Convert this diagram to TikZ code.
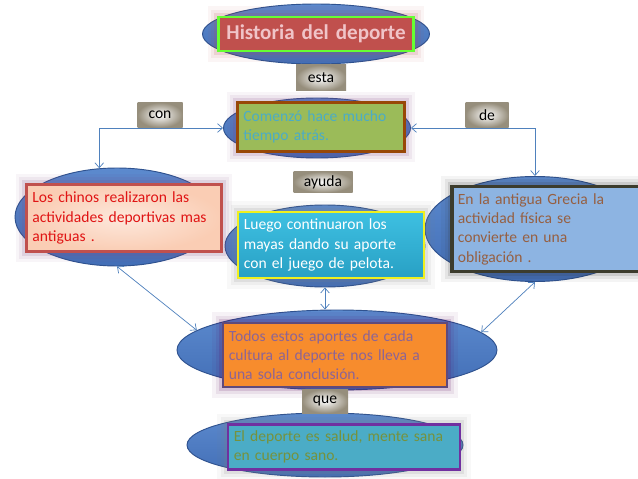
\documentclass[tikz,border=0pt]{standalone}
\usepackage{fontspec}
\setmainfont{Carlito}
\usepackage{tikz}
\usetikzlibrary{arrows.meta,shapes.geometric}
\definecolor{ellblue}{RGB}{66,110,182}
\definecolor{ellhi}{RGB}{92,138,206}
\definecolor{ellline}{RGB}{47,82,143}
\definecolor{lnblue}{RGB}{79,129,189}
\definecolor{titlered}{RGB}{192,80,77}
\definecolor{titlegreen}{RGB}{102,255,51}
\definecolor{titletext}{RGB}{240,196,200}
\definecolor{comfill}{RGB}{155,187,89}
\definecolor{combrown}{RGB}{152,72,7}
\definecolor{comtext}{RGB}{75,172,198}
\definecolor{chifill}{RGB}{250,205,180}
\definecolor{chilight}{RGB}{253,232,220}
\definecolor{chitext}{RGB}{224,20,20}
\definecolor{grefill}{RGB}{141,180,226}
\definecolor{greline}{RGB}{60,60,45}
\definecolor{gretext}{RGB}{150,95,65}
\definecolor{mayfill}{RGB}{40,160,196}
\definecolor{mayhi}{RGB}{62,192,226}
\definecolor{mayline}{RGB}{240,240,30}
\definecolor{todfill}{RGB}{247,140,45}
\definecolor{todline}{RGB}{96,74,123}
\definecolor{todtext}{RGB}{140,100,150}
\definecolor{salfill}{RGB}{75,172,198}
\definecolor{salline}{RGB}{112,48,160}
\definecolor{saltext}{RGB}{118,146,60}
\definecolor{lblout}{RGB}{150,142,124}
\newcommand\boxfont{\fontsize{13.3}{16.5}\selectfont}
\newcommand\titlefont{\fontsize{18}{21.6}\selectfont\bfseries}

\begin{document}
\begin{tikzpicture}[
  x=0.03cm, y=-0.03cm,
  ell/.style 2 args={ellipse,minimum width=#1*0.03cm,minimum height=#2*0.03cm,inner sep=0pt,draw=ellline,line width=.8pt,top color=ellhi,bottom color=ellblue},
  box/.style 2 args={rectangle,text width=#1*0.03cm-10pt,minimum height=#2*0.03cm,inner xsep=5pt,inner ysep=2pt,align=left,font=\boxfont},
  glow/.style={preaction={draw=#1,opacity=.05,line width=18pt},preaction={draw=#1,opacity=.08,line width=12pt},preaction={draw=#1,opacity=.14,line width=7pt}},
  lbl/.style 2 args={rectangle,minimum width=#1*0.03cm,minimum height=#2*0.03cm,inner sep=0pt,inner color=white,outer color=lblout,font=\boxfont},
  conn/.style={lnblue,line width=.6pt,<->,>={Straight Barb[length=1.5mm,width=2.6mm]}}
]
\useasboundingbox[fill=white] (0,0) rectangle (638,479);

\node[ell={227}{60}] (titE) at (316,34) {};
\node[ell={187}{60}] (comE) at (317,128) {};
\node[ell={204}{98}] (chiE) at (117,217) {};
\node[ell={220}{105}] (greE) at (535,229) {};
\node[ell={200}{82}] (mayE) at (325,246) {};
\node[ell={320}{80}] (todE) at (337,350) {};
\node[ell={276}{64}] (salE) at (325,445) {};

\node[box={195}{34},align=center,font=\titlefont,fill=titlered,draw=titlegreen,line width=2.5pt,glow=red!40!gray,text=titletext] (tit) at (316,34) {Historia del deporte};
\node[box={167}{49},fill=comfill,draw=combrown,line width=3pt,glow=violet!50!gray,text=comtext] (com) at (321,127)
  {Comenzó hace mucho\\tiempo atrás.};
\node[box={195}{67},inner color=chilight,outer color=chifill,draw=titlered,line width=2.5pt,glow=violet!40!gray,text=chitext] (chi) at (124,218)
  {Los chinos realizaron las\\actividades deportivas mas\\antiguas .};
\node[box={188}{85},fill=grefill,draw=greline,line width=3pt,glow=black!80,text=gretext] (gre) at (546,229)
  {En la antigua Grecia la\\actividad física se\\convierte en una\\obligación .};
\node[box={186}{66},top color=mayhi,bottom color=mayfill,draw=mayline,line width=2.5pt,glow=gray,text=white] (may) at (331,245)
  {Luego continuaron los\\mayas dando su aporte\\con el juego de pelota.};
\node[box={224}{64},fill=todfill,draw=todline,line width=2.5pt,glow=violet!70!black,text=todtext] (tod) at (335,355)
  {Todos estos aportes de cada\\cultura al deporte nos lleva a\\una sola conclusión.};
\node[box={232}{45},fill=salfill,draw=salline,line width=2.5pt,glow=gray,text=saltext] (sal) at (344,447)
  {El deporte es salud, mente sana\\en cuerpo sano.};

\node[lbl={50}{26}] (esta) at (321,78) {esta};
\node[lbl={45}{25}] (con) at (160,115) {con};
\node[lbl={43}{25}] (de) at (487,115) {de};
\node[lbl={59}{21}] (ayuda) at (323,182) {ayuda};
\node[lbl={46}{24}] (que) at (325,401) {que};

\draw[conn] (comE.west) -| (chiE.110);
\draw[conn] (comE.east) -| (greE.north);
\draw[conn] (chiE.south) -- (todE.172);
\draw[conn] (greE.south) -- (todE.7);
\draw[conn] (mayE.south) -- (mayE.south |- todE.north);
\end{tikzpicture}
\end{document}
